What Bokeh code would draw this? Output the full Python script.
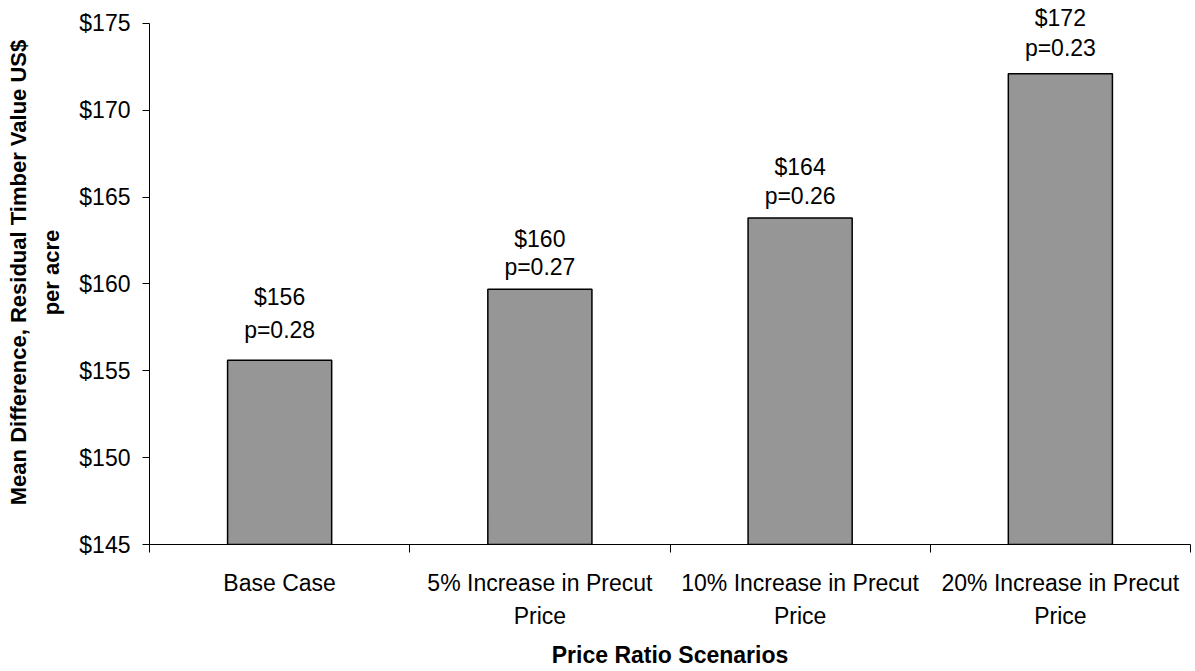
from bokeh.plotting import figure
from bokeh.models import ColumnDataSource, FixedTicker, PrintfTickFormatter, Range1d, LabelSet
from bokeh.core.properties import value
from bokeh.embed import file_html
from bokeh.resources import INLINE

# Scenario data
scenarios = [
    "Base Case",
    "5% Increase in Precut\nPrice",
    "10% Increase in Precut\nPrice",
    "20% Increase in Precut\nPrice",
]
mean_difference = [155.6, 159.7, 163.8, 172.1]
p_values = [0.28, 0.27, 0.26, 0.23]
y_ticks = [145, 150, 155, 160, 165, 170, 175]

FONT = "Liberation Sans"
FS = "23px"

# plot geometry: the value axis spans AXIS_PX pixels; a little headroom
# above it lets the top bar's labels sit outside the axis extent
H, BOTTOM, HEADROOM = 671, 124, 23
AXIS_PX = H - BOTTOM - HEADROOM
y_lo, y_hi = y_ticks[0], y_ticks[-1]
y_top = y_hi + HEADROOM * (y_hi - y_lo) / AXIS_PX

centers = [i + 0.5 for i in range(len(scenarios))]
src = ColumnDataSource(dict(
    x=centers,
    top=mean_difference,
    dollar=[f"${v:.0f}" for v in mean_difference],
    pval=[f"p={p:.2f}" for p in p_values],
    # pixel gaps of the two label lines above each bar
    p_off=[30, 22, 22, 26],
    d_off=[63, 50, 51, 56],
))

p = figure(
    width=1195, height=H,
    x_range=Range1d(0, len(scenarios)),
    y_range=Range1d(y_lo, y_top),
    output_backend="svg", toolbar_location=None,
    min_border_left=149, min_border_right=5,
    min_border_top=0, min_border_bottom=BOTTOM,
)
p.outline_line_color = None
p.grid.grid_line_color = None
p.background_fill_color = "white"
p.border_fill_color = "white"

p.vbar(x="x", top="top", bottom=y_lo, width=0.4, source=src,
       fill_color="#969696", line_color="black", line_width=1.5)

for col, off in (("pval", "p_off"), ("dollar", "d_off")):
    p.add_layout(LabelSet(
        x="x", y="top", text=col, y_offset=off, source=src,
        text_align="center", text_baseline="middle",
        text_font=value(FONT), text_font_size=value(FS), text_color="black",
    ))

# x axis: labels at category centres, tick marks at category boundaries
xa = p.xaxis[0]
xa.ticker = FixedTicker(ticks=centers, minor_ticks=list(range(len(scenarios) + 1)))
xa.major_label_overrides = {c: s for c, s in zip(centers, scenarios)}
xa.major_tick_out = 0
xa.major_tick_in = 0
xa.minor_tick_out = 8
xa.minor_tick_in = 0
xa.minor_tick_line_color = "black"
xa.axis_line_color = "black"
xa.major_label_standoff = 17
xa.major_label_text_font = FONT
xa.major_label_text_font_size = FS
xa.major_label_text_color = "black"
xa.major_label_text_line_height = 1.3
xa.axis_label = "Price Ratio Scenarios"
xa.axis_label_text_font = FONT
xa.axis_label_text_font_size = FS
xa.axis_label_text_font_style = "bold"
xa.axis_label_text_color = "black"
xa.axis_label_standoff = 10

ya = p.yaxis[0]
ya.bounds = (y_lo, y_hi)
ya.ticker = FixedTicker(ticks=y_ticks, minor_ticks=[])
ya.formatter = PrintfTickFormatter(format="$%d")
ya.major_tick_out = 7
ya.major_tick_in = 0
ya.major_tick_line_color = "black"
ya.axis_line_color = "black"
ya.major_label_standoff = 12
ya.major_label_text_font = FONT
ya.major_label_text_font_size = FS
ya.major_label_text_color = "black"
ya.axis_label = "Mean Difference, Residual Timber Value US$\nper acre"
ya.axis_label_text_font = FONT
ya.axis_label_text_font_size = "22px"
ya.axis_label_text_font_style = "bold"
ya.axis_label_text_color = "black"
ya.axis_label_text_line_height = 1.35
ya.axis_label_standoff = 12

open("out.html", "w").write(file_html(p, INLINE))
